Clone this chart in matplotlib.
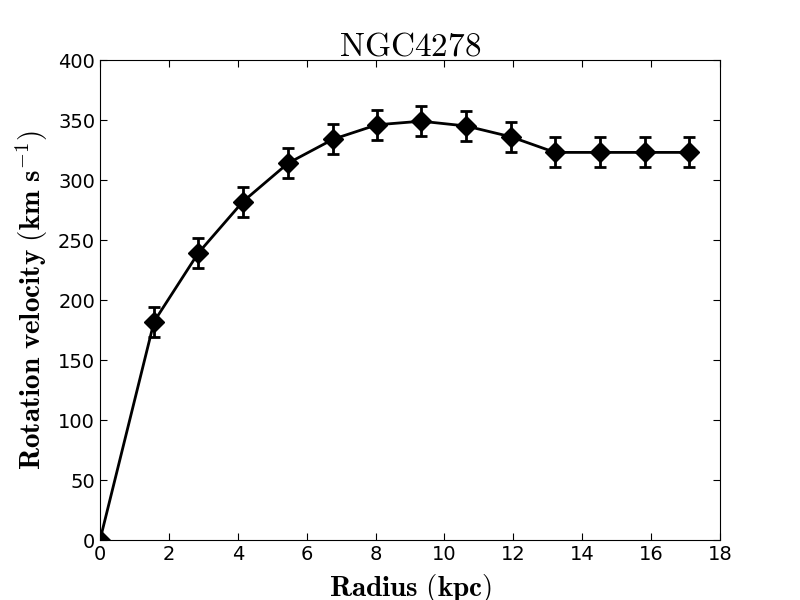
import numpy as np
import matplotlib
matplotlib.use('Agg')
import matplotlib.pyplot as plt

plt.rcParams['mathtext.fontset'] = 'cm'

# rotation curve
radius = [0.0, 1.57, 2.85, 4.15, 5.46, 6.77, 8.04, 9.32, 10.63, 11.93, 13.21, 14.52, 15.82, 17.10]
velocity = [0, 182, 239, 282, 314, 334, 346, 349, 345, 336, 323, 323, 323, 323]
v_err = [0, 12.5, 12.5, 12.5, 12.5, 12.5, 12.5, 12.5, 12.5, 12.5, 12.5, 12.5, 12.5, 12.5]

fig = plt.figure(figsize=(8, 6), dpi=100)
ax = fig.add_subplot(111)

ax.errorbar(radius, velocity, yerr=v_err, color='black', marker='D', markersize=10,
            linewidth=2, elinewidth=2, capsize=4, capthick=2)

ax.set_xlim(0, 18)
ax.set_ylim(0, 400)
ax.set_xticks(np.arange(0, 19, 2))
ax.set_yticks(np.arange(0, 401, 50))
ax.tick_params(direction='in', top=True, right=True, labelsize=14, length=5)

ax.set_title(r'$\mathrm{NGC4278}$', fontsize=24, pad=3)
ax.set_xlabel(r'$\mathbf{Radius\ (kpc)}$', fontsize=21, labelpad=6)
ax.set_ylabel(r'$\mathbf{Rotation\ velocity\ (km\ s^{-1})}$', fontsize=21, labelpad=6)

fig.subplots_adjust(left=0.125, right=0.9, bottom=0.1, top=0.9)
fig.savefig('out.png', dpi=100)
